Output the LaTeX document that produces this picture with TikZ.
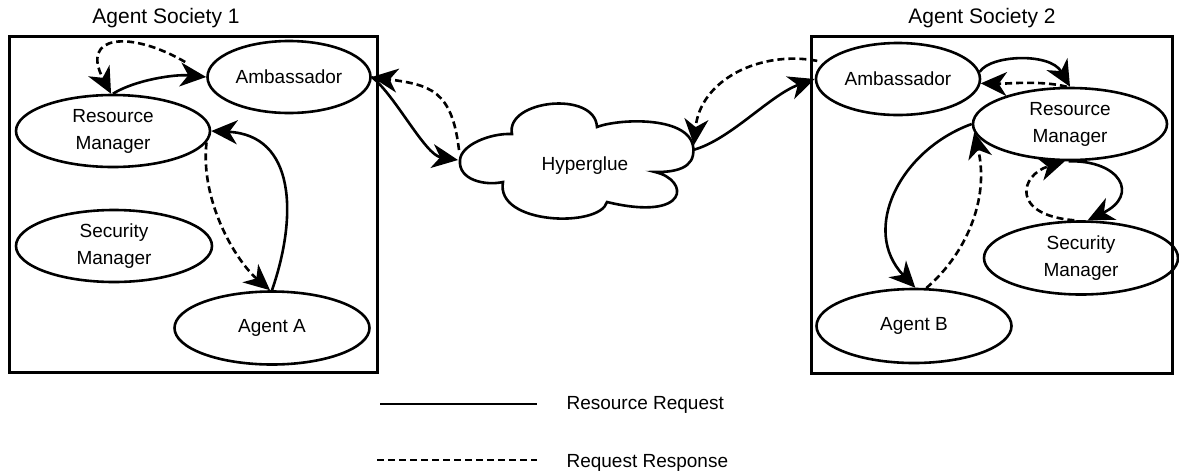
\documentclass[tikz,border=0pt]{standalone}
\usepackage{fontspec}
\setmainfont{Liberation Sans}
\usetikzlibrary{shapes.geometric,arrows.meta}
\begin{document}
\begin{tikzpicture}[x=1pt,y=-1pt,
  ell/.style={draw, ellipse, line width=2.6pt, inner sep=0pt, align=center, font=\fontsize{19}{27}\selectfont},
  req/.style={line width=2.6pt, -{Stealth[length=26pt,width=24pt,inset=8pt]}},
  resp/.style={req, dash pattern=on 7pt off 4pt},
  plainreq/.style={line width=2.8pt},
  plainresp/.style={line width=2.8pt, dash pattern=on 7pt off 4pt},
  society/.style={draw, line width=3pt, inner sep=0pt},
  title/.style={font=\fontsize{21}{25}\selectfont},
  lbl/.style={font=\fontsize{19}{23}\selectfont, anchor=west}]
\useasboundingbox (0,0) rectangle (1179,475);

% society boxes
\node[society, minimum width=368pt, minimum height=336pt] (soc1) at (193,204) {};
\node[society, minimum width=361pt, minimum height=337pt] (soc2) at (991.5,204.5) {};
\node[title] (t1) at (166,18) {Agent Society 1};
\node[title] (t2) at (982,18) {Agent Society 2};

% society 1
\node[ell, minimum width=163pt, minimum height=72pt] (amb1) at (289,77) {Ambassador};
\node[ell, minimum width=194pt, minimum height=72pt] (rm1) at (113,131) {Resource\\Manager};
\node[ell, minimum width=196pt, minimum height=72pt] (sm1) at (114,246) {Security\\Manager};
\node[ell, minimum width=195pt, minimum height=73pt] (agA) at (272,328) {Agent A};

% society 2
\node[ell, minimum width=164pt, minimum height=72pt] (amb2) at (898,79) {Ambassador};
\node[ell, minimum width=194pt, minimum height=72pt] (rm2) at (1070,124) {Resource\\Manager};
\node[ell, minimum width=194pt, minimum height=73pt] (sm2) at (1081,258) {Security\\Manager};
\node[ell, minimum width=195pt, minimum height=74pt] (agB) at (914,326) {Agent B};

% hyperglue cloud
\draw[line width=2.6pt, fill=white]
  (503,182) .. controls (485,186) and (458,180) .. (460,160)
  .. controls (461,145) and (490,133) .. (512,134)
  .. controls (505,100) and (595,90) .. (597,127)
  .. controls (620,118) and (700,115) .. (693,155)
  .. controls (690,172) and (665,172) .. (655,172)
  .. controls (690,180) and (690,222) .. (607,202)
  .. controls (600,228) and (495,225) .. (503,182) -- cycle;
\node[font=\fontsize{19}{23}\selectfont] (hg) at (585,166) {Hyperglue};
\coordinate (hgL) at (458,160);
\coordinate (hgLt) at (459,150);
\coordinate (hgR) at (693,150);
\coordinate (hgRt) at (694,145);

% connectors society 1
\draw[req] (rm1.90) .. controls (135,80) and (175,74) .. (amb1.west);
\draw[resp] ([xshift=-21pt,yshift=15pt]amb1.west) .. controls (130,30) and (80,35) .. (rm1.93);
\draw[req] (agA.north) .. controls (298,215) and (295,135) .. (rm1.east);
\draw[resp] (rm1.-7) .. controls (200,200) and (235,260) .. (agA.93);

% connectors to hyperglue
\draw[req] (amb1.east) .. controls (395,95) and (425,155) .. (hgL);
\draw[resp] (hgLt) .. controls (452,90) and (430,85) .. (amb1.east);
\draw[req] (hgR) .. controls (730,140) and (770,95) .. (amb2.west);
\draw[resp] ([xshift=-8pt]amb2.166) .. controls (760,50) and (700,80) .. (hgRt);

% connectors society 2
\draw[req] (amb2.5) .. controls (990,55) and (1050,52) .. (rm2.north);
\draw[resp] (rm2.95) .. controls (1040,80) and (1005,84) .. (amb2.-3);
\draw[req] (rm2.west) .. controls (900,150) and (860,230) .. (agB.88);
\draw[resp] (agB.72) .. controls (965,255) and (990,200) .. (rm2.185);
\draw[req] (rm2.268) .. controls (1120,160) and (1140,195) .. (sm2.80);
\draw[resp] (sm2.100) .. controls (1010,215) and (1020,175) .. (rm2.262);

% legend
\coordinate (l1a) at (380,404);
\coordinate (l1b) at (537,404);
\coordinate (l2a) at (377,460);
\coordinate (l2b) at (537,460);
\draw[plainreq] (l1a) -- (l1b);
\draw[plainresp] (l2a) -- (l2b);
\node[lbl] (lg1) at (563,405) {Resource Request};
\node[lbl] (lg2) at (563,463) {Request Response};
\end{tikzpicture}
\end{document}
